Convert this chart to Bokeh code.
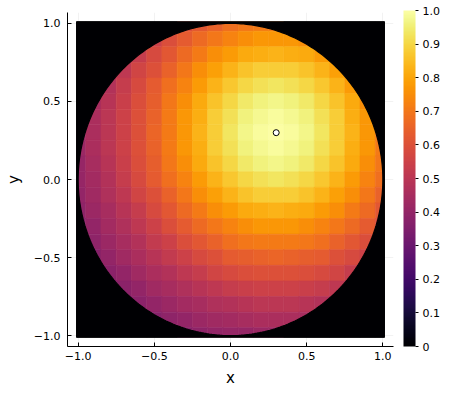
import numpy as np
from bokeh.plotting import figure
from bokeh.models import (LinearColorMapper, ColorBar, FixedTicker, ColumnDataSource,
                          CustomJSTickFormatter)
from bokeh.palettes import Inferno256
from bokeh.embed import file_html
from bokeh.resources import INLINE

# ---------------- data ----------------
x_centers = [-1.0, -0.9, -0.8, -0.7, -0.6, -0.5, -0.4, -0.3, -0.2, -0.1, 0.0,
             0.1, 0.2, 0.3, 0.4, 0.5, 0.6, 0.7, 0.8, 0.9, 1.0]
y_centers = [1.0, 0.9, 0.8, 0.7, 0.6, 0.5, 0.4, 0.3, 0.2, 0.1, 0.0,
             -0.1, -0.2, -0.3, -0.4, -0.5, -0.6, -0.7, -0.8, -0.9, -1.0]
# values of each row (top row y=1.0 first), 0 = outside the disk
z_rows = [
    [0, 0, 0, 0, 0, 0, 0, 0.59, 0.62, 0.65, 0.68, 0.70, 0.71, 0.71, 0, 0, 0, 0, 0, 0, 0],
    [0, 0, 0, 0, 0, 0.55, 0.59, 0.63, 0.67, 0.70, 0.73, 0.75, 0.77, 0.77, 0.77, 0.75, 0, 0, 0, 0, 0],
    [0, 0, 0, 0.49, 0.53, 0.58, 0.62, 0.67, 0.71, 0.75, 0.78, 0.81, 0.82, 0.83, 0.82, 0.81, 0.78, 0.75, 0, 0, 0],
    [0, 0, 0.47, 0.51, 0.56, 0.60, 0.65, 0.70, 0.75, 0.79, 0.83, 0.86, 0.88, 0.88, 0.88, 0.86, 0.83, 0.79, 0.75, 0, 0],
    [0, 0, 0.48, 0.53, 0.58, 0.63, 0.68, 0.73, 0.78, 0.83, 0.87, 0.90, 0.92, 0.93, 0.92, 0.90, 0.87, 0.83, 0.78, 0, 0],
    [0, 0.45, 0.49, 0.54, 0.59, 0.64, 0.70, 0.75, 0.81, 0.86, 0.90, 0.94, 0.96, 0.97, 0.96, 0.94, 0.90, 0.86, 0.81, 0.75, 0],
    [0, 0.46, 0.50, 0.55, 0.60, 0.65, 0.71, 0.77, 0.82, 0.88, 0.92, 0.96, 0.98, 0.99, 0.98, 0.96, 0.92, 0.88, 0.82, 0.77, 0],
    [0.42, 0.46, 0.50, 0.55, 0.60, 0.66, 0.71, 0.77, 0.83, 0.88, 0.93, 0.97, 0.99, 1.00, 0.99, 0.97, 0.93, 0.88, 0.83, 0.77, 0.71],
    [0.42, 0.46, 0.50, 0.55, 0.60, 0.65, 0.71, 0.77, 0.82, 0.88, 0.92, 0.96, 0.98, 0.99, 0.98, 0.96, 0.92, 0.88, 0.82, 0.77, 0.71],
    [0.41, 0.45, 0.49, 0.54, 0.59, 0.64, 0.70, 0.75, 0.81, 0.86, 0.90, 0.94, 0.96, 0.97, 0.96, 0.94, 0.90, 0.86, 0.81, 0.75, 0.70],
    [0.41, 0.44, 0.48, 0.53, 0.58, 0.63, 0.68, 0.73, 0.78, 0.83, 0.87, 0.90, 0.92, 0.93, 0.92, 0.90, 0.87, 0.83, 0.78, 0.73, 0.68],
    [0.40, 0.43, 0.47, 0.51, 0.56, 0.60, 0.65, 0.70, 0.75, 0.79, 0.83, 0.86, 0.88, 0.88, 0.88, 0.86, 0.83, 0.79, 0.75, 0.70, 0.65],
    [0.39, 0.42, 0.45, 0.49, 0.53, 0.58, 0.62, 0.67, 0.71, 0.75, 0.78, 0.81, 0.82, 0.83, 0.82, 0.81, 0.78, 0.75, 0.71, 0.67, 0.62],
    [0.37, 0.40, 0.44, 0.47, 0.51, 0.55, 0.59, 0.63, 0.67, 0.70, 0.73, 0.75, 0.77, 0.77, 0.77, 0.75, 0.73, 0.70, 0.67, 0.63, 0.59],
    [0, 0.39, 0.42, 0.45, 0.48, 0.52, 0.55, 0.59, 0.62, 0.65, 0.68, 0.70, 0.71, 0.71, 0.71, 0.70, 0.68, 0.65, 0.62, 0.59, 0],
    [0, 0.37, 0.40, 0.43, 0.46, 0.49, 0.52, 0.55, 0.58, 0.60, 0.63, 0.64, 0.65, 0.66, 0.65, 0.64, 0.63, 0.60, 0.58, 0.55, 0],
    [0, 0, 0.38, 0.40, 0.43, 0.46, 0.48, 0.51, 0.53, 0.56, 0.58, 0.59, 0.60, 0.60, 0.60, 0.59, 0.58, 0.56, 0.53, 0, 0],
    [0, 0, 0.36, 0.38, 0.40, 0.43, 0.45, 0.47, 0.49, 0.51, 0.53, 0.54, 0.55, 0.55, 0.55, 0.54, 0.53, 0.51, 0.49, 0, 0],
    [0, 0, 0, 0.36, 0.38, 0.40, 0.42, 0.44, 0.45, 0.47, 0.48, 0.49, 0.50, 0.50, 0.50, 0.49, 0.48, 0.47, 0, 0, 0],
    [0, 0, 0, 0, 0, 0.37, 0.39, 0.40, 0.42, 0.43, 0.44, 0.45, 0.46, 0.46, 0.46, 0.45, 0, 0, 0, 0, 0],
    [0, 0, 0, 0, 0, 0, 0, 0.37, 0.39, 0.40, 0.41, 0.41, 0.42, 0.42, 0, 0, 0, 0, 0, 0, 0],
]
peak_x = [0.3]
peak_y = [0.3]

x_ticks = [-1.0, -0.5, 0.0, 0.5, 1.0]
x_tick_labels = ["\u22121.0", "\u22120.5", "0.0", "0.5", "1.0"]
y_ticks = [-1.0, -0.5, 0.0, 0.5, 1.0]
y_tick_labels = ["\u22121.0", "\u22120.5", "0.0", "0.5", "1.0"]
cbar_ticks = [0.0, 0.1, 0.2, 0.3, 0.4, 0.5, 0.6, 0.7, 0.8, 0.9, 1.0]
cbar_tick_labels = ["0", "0.1", "0.2", "0.3", "0.4", "0.5", "0.6", "0.7", "0.8", "0.9", "1.0"]

# ---------------- styling / geometry ----------------
FONT = "DejaVu Sans"
EXTENT = 1.01          # edge of the heatmap square
X_RANGE = (-1.07, 1.07)
Y_RANGE = (-1.07, 1.07)
BLACK = Inferno256[0]
LEFT, TOP, BOTTOM, RIGHT = 67, 12, 41, 53
FRAME_W, FRAME_H = 326, 336
CBAR_GAP = 10

Z = np.array(z_rows, dtype=float)
XC = np.array(x_centers)
YC = np.array(y_centers)
hx = abs(XC[1] - XC[0]) / 2.0
hy = abs(YC[1] - YC[0]) / 2.0
XX, YY = np.meshgrid(XC, YC)
src = ColumnDataSource(dict(
    l=np.clip(XX - hx, -EXTENT, EXTENT).ravel(),
    r=np.clip(XX + hx, -EXTENT, EXTENT).ravel(),
    b=np.clip(YY - hy, -EXTENT, EXTENT).ravel(),
    t=np.clip(YY + hy, -EXTENT, EXTENT).ravel(),
    z=Z.ravel(),
))

mapper = LinearColorMapper(palette=Inferno256, low=0.0, high=1.0)

p = figure(width=LEFT + FRAME_W + RIGHT, height=TOP + FRAME_H + BOTTOM,
           x_range=X_RANGE, y_range=Y_RANGE,
           output_backend="svg", toolbar_location=None,
           min_border_left=LEFT, min_border_top=TOP, min_border_bottom=BOTTOM,
           min_border_right=RIGHT)
p.outline_line_color = None
p.background_fill_color = "white"
p.border_fill_color = "white"

p.quad(left="l", right="r", bottom="b", top="t", source=src,
       fill_color={"field": "z", "transform": mapper},
       line_color={"field": "z", "transform": mapper}, line_width=0.6)

# mask outside the unit disk (the heatmap's domain) in the zero colour
ang = np.linspace(0, -2 * np.pi, 361)
mask_x = [EXTENT, EXTENT, -EXTENT, -EXTENT, EXTENT, EXTENT] + list(np.cos(ang)) + [EXTENT]
mask_y = [0, EXTENT, EXTENT, -EXTENT, -EXTENT, 0] + list(np.sin(ang)) + [0]
p.patch(mask_x, mask_y, fill_color=BLACK, line_color=BLACK, line_width=1.2)

p.scatter(x=peak_x, y=peak_y, size=6, marker="circle", fill_color="white",
          line_color="black", line_width=1)

def fmt(tick_values, tick_labels):
    return CustomJSTickFormatter(args=dict(tvals=tick_values, tlabels=tick_labels), code="""
        for (let i = 0; i < tvals.length; i++) {
            if (Math.abs(tvals[i] - tick) < 1e-9) return tlabels[i];
        }
        return '';
    """)

for ax, tv, tl, name in ((p.xaxis[0], x_ticks, x_tick_labels, "x"),
                         (p.yaxis[0], y_ticks, y_tick_labels, "y")):
    ax.ticker = FixedTicker(ticks=tv)
    ax.formatter = fmt(tv, tl)
    ax.axis_label = name
    ax.axis_label_text_font = FONT
    ax.axis_label_text_font_size = "15px"
    ax.axis_label_text_font_style = "normal"
    ax.axis_label_text_color = "black"
    ax.major_label_text_font = FONT
    ax.major_label_text_font_size = "11px"
    ax.major_label_text_color = "black"
    ax.major_tick_in = 4
    ax.major_tick_out = 0
    ax.minor_tick_line_color = None
    ax.axis_line_color = "black"
    ax.major_tick_line_color = "black"

p.xaxis.major_label_standoff = 5
p.xaxis.axis_label_standoff = 6
p.yaxis.major_label_standoff = 7
p.yaxis.axis_label_standoff = 8

p.grid.grid_line_color = "black"
p.grid.grid_line_alpha = 0.1
p.grid.grid_line_width = 0.5

# colour bar placed just to the right of the frame (screen units from frame's bottom-left)
cb = ColorBar(color_mapper=mapper, width=12, height=FRAME_H, padding=0, margin=0,
              location=(FRAME_W + CBAR_GAP, 0),
              ticker=FixedTicker(ticks=cbar_ticks),
              formatter=fmt(cbar_ticks, cbar_tick_labels),
              major_tick_in=0, major_tick_out=3, major_tick_line_color="black",
              minor_tick_line_color=None, bar_line_color=None,
              border_line_color=None, background_fill_color=None,
              label_standoff=4, major_label_text_font=FONT,
              major_label_text_font_size="11px", major_label_text_color="black")
p.add_layout(cb, "center")

open("out.html", "w").write(file_html(p, INLINE))
